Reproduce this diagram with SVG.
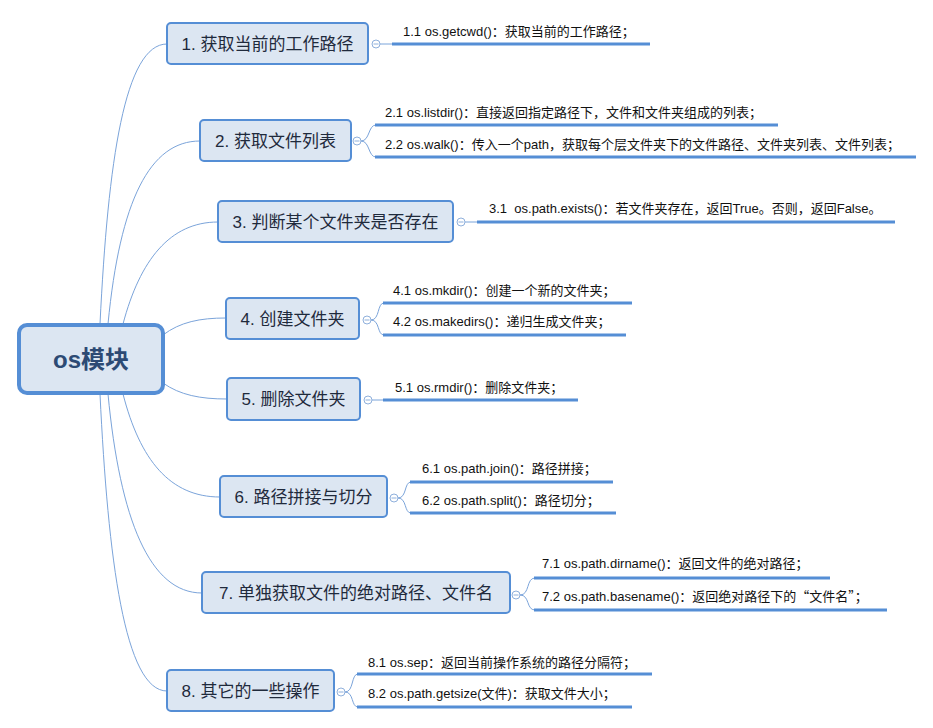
<svg xmlns="http://www.w3.org/2000/svg" width="933" height="728" viewBox="0 0 933 728">
<style>
.bg{fill:#ffffff}
.root rect{fill:#dce6f2;stroke:#558ed5;stroke-width:4}
.root text{font-family:"Liberation Sans","Noto Sans CJK SC",sans-serif;font-size:24px;font-weight:bold;fill:#2c4a74;text-anchor:middle}
.topic rect{fill:#dce6f2;stroke:#558ed5;stroke-width:2}
.topic text{font-family:"Liberation Sans","Noto Sans CJK SC",sans-serif;font-size:17px;fill:#1f2a3c;text-anchor:middle}
.sub text{font-family:"Liberation Sans","Noto Sans CJK SC",sans-serif;font-size:13px;fill:#111111;white-space:pre}
.cjk{font-family:"Noto Sans CJK SC",sans-serif}
.sub line{stroke:#558ed5;stroke-width:3}
.thin{fill:none;stroke:#7ba4da;stroke-width:1}
.tog circle{fill:#ffffff;stroke:#8fb0dc;stroke-width:1}
.tog line{stroke:#8fb0dc;stroke-width:1}
</style>
<rect class="bg" x="0" y="0" width="933" height="728"/>
<g id="connectors">
<path class="thin" d="M100 324 C108 160 125 44 167 44"/>
<path class="thin" d="M108 324 C120 200 150 141 200 141"/>
<path class="thin" d="M123 324 C140 260 170 222 218 222"/>
<path class="thin" d="M163 335 C180 322 200 318 226 318"/>
<path class="thin" d="M163 383 C180 395 200 399 227 399"/>
<path class="thin" d="M123 394 C140 460 170 497 220 497"/>
<path class="thin" d="M108 394 C120 520 150 593 202 593"/>
<path class="thin" d="M100 394 C108 560 125 691 167 691"/>
<path class="thin" d="M380 44 H392"/>
<path class="thin" d="M361 141 C370 141 368 125 376 125 M361 141 C370 141 368 157 376 157"/>
<path class="thin" d="M465 222 H477"/>
<path class="thin" d="M371 320 C380 320 377 303 384 303 M371 320 C380 320 377 335 384 335"/>
<path class="thin" d="M372 400 H383"/>
<path class="thin" d="M398 498 C407 498 404 482 411 482 M398 498 C407 498 404 513 411 513"/>
<path class="thin" d="M520 595 C530 595 526 578 535 578 M520 595 C530 595 526 610 535 610"/>
<path class="thin" d="M345 692 C354 692 351 674 358 674 M345 692 C354 692 351 707 358 707"/>
</g>
<g id="root" class="root">
<rect x="19" y="325" width="144" height="68" rx="8"/>
<text x="91" y="368">os模块</text>
</g>
<g id="n1">
<g class="topic"><rect x="167" y="23" width="201" height="41" rx="4"/><text x="267.5" y="49.5">1. 获取当前的工作路径</text></g>
<g class="tog"><circle cx="376" cy="44" r="4"/><line x1="373.5" y1="44" x2="378.5" y2="44"/></g>
<g class="sub"><line x1="392" y1="44" x2="650" y2="44"/><text x="403" y="36">1.1 os.getcwd()：获取当前的工作路径；</text></g>
</g>
<g id="n2">
<g class="topic"><rect x="200" y="120" width="151" height="41" rx="4"/><text x="275.5" y="146.5">2. 获取文件列表</text></g>
<g class="tog"><circle cx="357" cy="141" r="4"/><line x1="354.5" y1="141" x2="359.5" y2="141"/></g>
<g class="sub"><line x1="375" y1="125" x2="778" y2="125"/><text x="385" y="117">2.1 os.listdir()：直接返回指定路径下，文件和文件夹组成的列表；</text>
<line x1="375" y1="157" x2="916" y2="157"/><text x="385" y="149">2.2 os.walk()：传入一个path，获取每个层文件夹下的文件路径、文件夹列表、文件列表；</text></g>
</g>
<g id="n3">
<g class="topic"><rect x="218" y="201" width="235" height="41" rx="4"/><text x="335.5" y="227.5">3. 判断某个文件夹是否存在</text></g>
<g class="tog"><circle cx="461" cy="222" r="4"/><line x1="458.5" y1="222" x2="463.5" y2="222"/></g>
<g class="sub"><line x1="477" y1="222" x2="895" y2="222"/><text x="489" y="213">3.1  os.path.exists()：若文件夹存在，返回True。否则，返回False。</text></g>
</g>
<g id="n4">
<g class="topic"><rect x="226" y="298" width="133" height="41" rx="4"/><text x="292.5" y="324.5">4. 创建文件夹</text></g>
<g class="tog"><circle cx="367" cy="320" r="4"/><line x1="364.5" y1="320" x2="369.5" y2="320"/></g>
<g class="sub"><line x1="383" y1="303" x2="632" y2="303"/><text x="393" y="295">4.1 os.mkdir()：创建一个新的文件夹；</text>
<line x1="383" y1="335" x2="626" y2="335"/><text x="393" y="326">4.2 os.makedirs()：递归生成文件夹；</text></g>
</g>
<g id="n5">
<g class="topic"><rect x="227" y="378" width="133" height="42" rx="4"/><text x="293.5" y="405">5. 删除文件夹</text></g>
<g class="tog"><circle cx="368" cy="400" r="4"/><line x1="365.5" y1="400" x2="370.5" y2="400"/></g>
<g class="sub"><line x1="383" y1="400" x2="578" y2="400"/><text x="395" y="392">5.1 os.rmdir()：删除文件夹；</text></g>
</g>
<g id="n6">
<g class="topic"><rect x="220" y="476" width="167" height="41" rx="4"/><text x="303.5" y="502.5">6. 路径拼接与切分</text></g>
<g class="tog"><circle cx="394" cy="498" r="4"/><line x1="391.5" y1="498" x2="396.5" y2="498"/></g>
<g class="sub"><line x1="410" y1="482" x2="613" y2="482"/><text x="422" y="473">6.1 os.path.join()：路径拼接；</text>
<line x1="410" y1="513" x2="616" y2="513"/><text x="422" y="505">6.2 os.path.split()：路径切分；</text></g>
</g>
<g id="n7">
<g class="topic"><rect x="202" y="572" width="308" height="41" rx="4"/><text x="356" y="598.5">7. 单独获取文件的绝对路径、文件名</text></g>
<g class="tog"><circle cx="516" cy="595" r="4"/><line x1="513.5" y1="595" x2="518.5" y2="595"/></g>
<g class="sub"><line x1="534" y1="578" x2="830" y2="578"/><text x="542" y="568">7.1 os.path.dirname()：返回文件的绝对路径；</text>
<line x1="534" y1="610" x2="887" y2="610"/><text x="542" y="601">7.2 os.path.basename()：返回绝对路径下的<tspan class="cjk">“</tspan>文件名<tspan class="cjk">”</tspan>；</text></g>
</g>
<g id="n8">
<g class="topic"><rect x="167" y="670" width="167" height="41" rx="4"/><text x="250.5" y="696.5">8. 其它的一些操作</text></g>
<g class="tog"><circle cx="341" cy="692" r="4"/><line x1="338.5" y1="692" x2="343.5" y2="692"/></g>
<g class="sub"><line x1="357" y1="674" x2="652" y2="674"/><text x="368" y="667">8.1 os.sep：返回当前操作系统的路径分隔符；</text>
<line x1="357" y1="707" x2="632" y2="707"/><text x="368" y="698">8.2 os.path.getsize(文件)：获取文件大小；</text></g>
</g>
</svg>
